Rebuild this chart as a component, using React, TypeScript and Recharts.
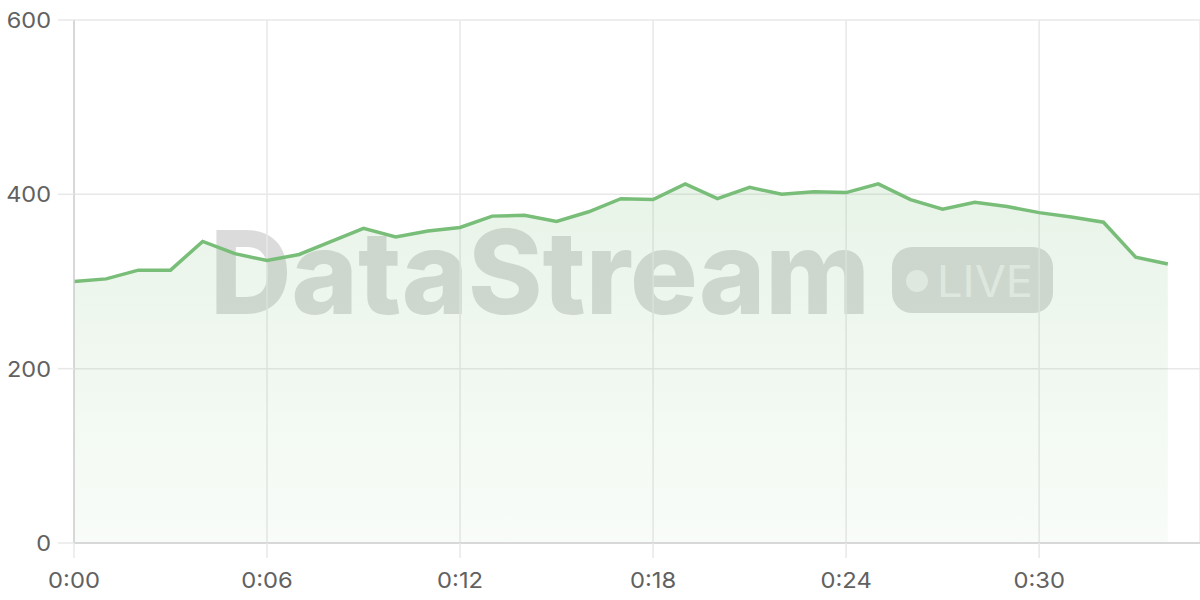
import { AreaChart, Area, XAxis, YAxis, CartesianGrid } from 'recharts';

// minutes since start and the value at each minute
const minutes = [
  0, 1, 2, 3, 4, 5, 6, 7, 8, 9, 10, 11, 12, 13, 14, 15, 16, 17,
  18, 19, 20, 21, 22, 23, 24, 25, 26, 27, 28, 29, 30, 31, 32, 33, 34,
];
const values = [
  300, 303, 313, 313, 346, 332, 324, 331, 346, 361, 351, 358, 362, 375, 376, 369, 380, 395,
  394, 412, 395, 408, 400, 403, 402, 412, 394, 383, 391, 386, 379, 374, 368, 328, 320,
];

const xTicks = [0, 6, 12, 18, 24, 30];
const xTickLabels = ['0:00', '0:06', '0:12', '0:18', '0:24', '0:30'];
const yTicks = [0, 200, 400, 600];

const data = minutes.map((m, i) => ({ t: m, value: values[i] }));

const FONT = 'Inter, "Liberation Sans", Arial, sans-serif';
const GRID = '#e8e8e8';

function YTick({ x, y, payload }: any) {
  return (
    <g transform={`translate(${x},${y + 8})`}>
      <text textAnchor="end" fill="#616161" fontSize={21} fontFamily={FONT} transform="scale(1.12,1)">
        {payload.value}
      </text>
    </g>
  );
}

function XTick({ x, y, payload }: any) {
  const idx = xTicks.indexOf(payload.value);
  return (
    <g transform={`translate(${x},${y + 30})`}>
      <text textAnchor="middle" fill="#616161" fontSize={22} fontFamily={FONT} transform="scale(1.08,1)">
        {idx >= 0 ? xTickLabels[idx] : payload.value}
      </text>
    </g>
  );
}

// faint brand mark sitting behind the plot
function Watermark() {
  return (
    <svg width={1200} height={600} style={{ position: 'absolute', left: 0, top: 0 }}>
      <text
        x={210}
        y={314}
        fontSize={116}
        fontWeight={800}
        fontFamily={FONT}
        fill="rgba(0,0,0,0.14)"
        textLength={660}
        lengthAdjust="spacingAndGlyphs"
      >
        DataStream
      </text>
      <rect x={892} y={247} width={161} height={66} rx={20} fill="rgba(0,0,0,0.14)" />
      <circle cx={917} cy={281} r={11} fill="rgba(255,255,255,0.55)" />
      <text x={937} y={297} fontSize={44} fontFamily={FONT} fill="rgba(255,255,255,0.55)" textLength={96} lengthAdjust="spacingAndGlyphs">
        LIVE
      </text>
    </svg>
  );
}

export default function App() {
  return (
    <div style={{ position: 'absolute', left: 0, top: 0, width: 1200, height: 600, background: '#fff' }}>
      <Watermark />
      <div style={{ position: 'absolute', left: 0, top: 0 }}>
        <AreaChart width={1200} height={600} data={data} margin={{ top: 20, right: 0, bottom: 0, left: 0 }}>
          <defs>
            <linearGradient id="fillGreen" x1="0" y1="0" x2="0" y2="1">
              <stop offset="0%" stopColor="#78bd78" stopOpacity={0.28} />
              <stop offset="100%" stopColor="#78bd78" stopOpacity={0.08} />
            </linearGradient>
          </defs>
          <CartesianGrid stroke={GRID} strokeWidth={1.5} />
          <XAxis
            dataKey="t"
            type="number"
            domain={[0, 35]}
            ticks={xTicks}
            height={57}
            tickSize={15}
            tickMargin={0}
            axisLine={{ stroke: '#d0d0d0', strokeWidth: 1.5 }}
            tickLine={{ stroke: GRID, strokeWidth: 1.5 }}
            tick={<XTick />}
          />
          <YAxis
            domain={[0, 600]}
            ticks={yTicks}
            width={74}
            tickSize={16}
            tickMargin={7}
            axisLine={{ stroke: '#d0d0d0', strokeWidth: 1.5 }}
            tickLine={{ stroke: GRID, strokeWidth: 1.5 }}
            tick={<YTick />}
          />
          <Area
            type="linear"
            dataKey="value"
            stroke="#78bd78"
            strokeWidth={3.5}
            fill="url(#fillGreen)"
            dot={false}
            activeDot={false}
            isAnimationActive={false}
          />
        </AreaChart>
      </div>
    </div>
  );
}
